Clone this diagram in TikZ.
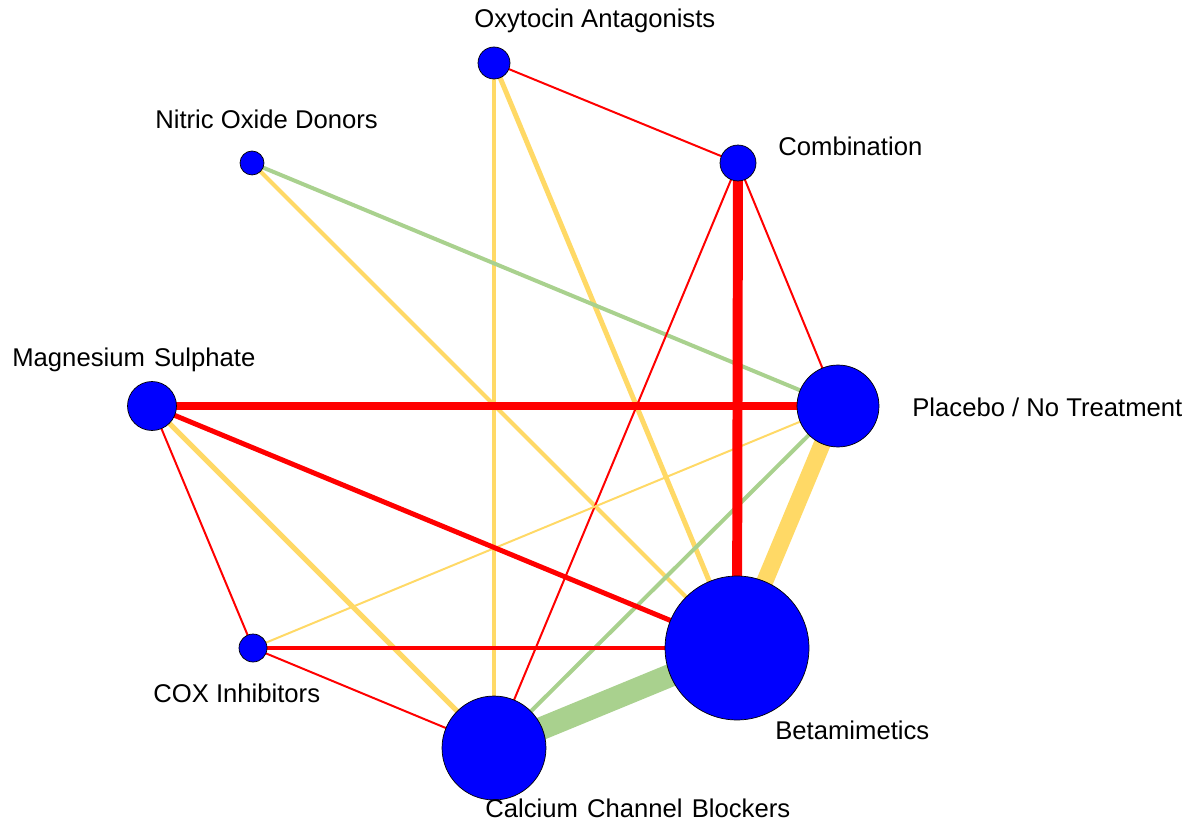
\documentclass[tikz,border=0pt]{standalone}
\usepackage{fontspec}
\setmainfont{Liberation Sans}
\usetikzlibrary{backgrounds}
\definecolor{netred}{HTML}{FF0000}
\definecolor{netyellow}{HTML}{FFD966}
\definecolor{netgreen}{HTML}{A9D18E}
\tikzset{
	drug/.style={circle, fill=blue, draw=black, line width=0.4pt, inner sep=0pt, minimum size=#1*0.04cm},
	lbl/.style={anchor=base west, inner sep=0pt, font=\fontsize{14.6}{17}\selectfont},
	redl/.style={draw=netred, line width=#1*0.567pt},
	yell/.style={draw=netyellow, line width=#1*0.567pt},
	grnl/.style={draw=netgreen, line width=#1*0.567pt},
}
\begin{document}
\begin{tikzpicture}[x=0.02cm, y=-0.02cm]
			\useasboundingbox (0,0) rectangle (1193,834);
			% treatments
			\node[drug=16] (oxy) at (494, 63) {};
			\node[drug=18] (comb) at (738, 163) {};
			\node[drug=12] (nit) at (252, 163) {};
			\node[drug=24.5] (mag) at (152, 406) {};
			\node[drug=41] (plac) at (838, 406) {};
			\node[drug=14] (cox) at (253, 648) {};
			\node[drug=52] (ccb) at (494, 748) {};
			\node[drug=72] (beta) at (737, 648) {};
			
			\node[lbl] (oxylbl) at (474, 28) {Oxytocin Antagonists};
			\node[lbl] (nitlbl) at (155, 129) {Nitric Oxide Donors};
			\node[lbl] (comblbl) at (778, 156) {Combination};
			\node[lbl] (maglbl) at (12, 367) {Magnesium\hspace{0.08em} Sulphate};
			\node[lbl] (placlbl) at (912, 417) {Placebo / No Treatment};
			\node[lbl] (coxlbl) at (153, 702) {COX Inhibitors};
			\node[lbl] (betalbl) at (775, 739) {Betamimetics};
			\node[lbl] (ccblbl) at (485, 817) {Calcium\hspace{0.08em} Channel\hspace{0.08em} Blockers};
			
			% comparisons, behind the circles
			\begin{pgfonlayer}{background}
				\draw[redl=2]  (oxy.center) -- (comb.center);
				\draw[yell=5]  (oxy.center) -- (ccb.center);
				\draw[yell=5]  (oxy.center) -- (beta.center);
				\draw[grnl=4]  (nit.center) -- (plac.center);
				\draw[yell=4]  (nit.center) -- (beta.center);
				\draw[redl=2]  (comb.center) -- (plac.center);
				\draw[redl=2]  (comb.center) -- (ccb.center);
				\draw[redl=2]  (mag.center) -- (cox.center);
				\draw[yell=5]  (mag.center) -- (ccb.center);
				\draw[yell=2]  (plac.center) -- (cox.center);
				\draw[grnl=4]  (plac.center) -- (ccb.center);
				\draw[redl=2]  (cox.center) -- (ccb.center);
				\draw[redl=5]  (cox.center) -- (beta.center);
				\draw[redl=5]  (mag.center) -- (beta.center);
				\draw[redl=9]  (mag.center) -- (plac.center);
				\draw[redl=10] (comb.center) -- (beta.center);
				\draw[yell=17] (plac.center) -- (beta.center);
				\draw[grnl=23] (ccb.center) -- (beta.center);
			\end{pgfonlayer}
\end{tikzpicture}
\end{document}
